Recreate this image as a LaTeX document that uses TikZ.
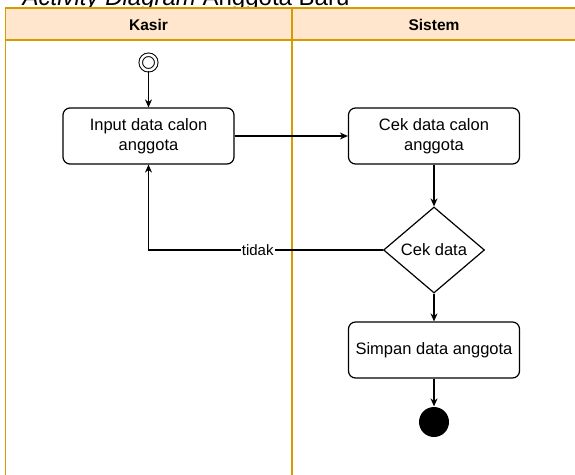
\documentclass[tikz,border=0pt]{standalone}
\usepackage{fontspec}
\setmainfont{Liberation Sans}
\usetikzlibrary{shapes.geometric,arrows.meta}
\definecolor{laneline}{HTML}{D79B00}
\definecolor{lanefill}{HTML}{FFE6CC}

\begin{document}
\begin{tikzpicture}[x=1pt,y=-1pt,>={Stealth[length=8pt,width=7pt]},
    line width=1.2pt,
    activity/.style={draw=black,rectangle,rounded corners=7pt,minimum width=171pt,
      minimum height=56pt,align=center,font=\fontsize{16.5}{20}\selectfont},
    decision/.style={draw=black,diamond,aspect=1.17,minimum width=101pt,
      minimum height=86pt,inner sep=0pt,font=\fontsize{16.5}{20}\selectfont},
    lanehead/.style={font=\fontsize{15.5}{18}\selectfont\bfseries}]
  \useasboundingbox (0,0) rectangle (575,474);
  \clip (0,0) rectangle (575,474);
  % judul (terpotong di atas)
  \node[anchor=base west,inner sep=0pt,font=\fontsize{24}{28}\selectfont] (judul) at (22,5)
    {\textit{Activity Diagram} Anggota Baru};
  % swimlane
  \fill[lanefill] (5.5,8) rectangle (600,40);
  \draw[laneline,line width=1.3pt] (5.5,490) -- (5.5,8) -- (600,8);
  \draw[laneline,line width=1.3pt] (5.5,40) -- (600,40);
  \draw[laneline,line width=1.3pt] (292,8) -- (292,490);
  \node[lanehead] (kasir) at (148.5,25) {Kasir};
  \node[lanehead] (sistem) at (434,25) {Sistem};
  % aktivitas
  \node[circle,draw=black,line width=1pt,double,double distance=2.5pt,minimum size=15.5pt,
    inner sep=0pt] (mulai) at (148.5,62.5) {};
  \node[activity] (input) at (148.5,136) {Input data calon\\anggota};
  \node[activity] (cek) at (434,136) {Cek data calon\\anggota};
  \node[decision] (cekdata) at (434,250) {Cek data};
  \node[activity] (simpan) at (434,350) {Simpan data anggota};
  \node[circle,fill=black,minimum size=30pt,inner sep=0pt] (selesai) at (434,422) {};

  \draw[->] (mulai) -- (input);
  \draw[->] (input) -- (cek);
  \draw[->] (cek) -- (cekdata);
  \draw[->] (cekdata.west) -| node[pos=0.267,fill=white,inner sep=1pt,
    font=\fontsize{15}{18}\selectfont] {tidak} (input.south);
  \draw[->] (cekdata) -- (simpan);
  \draw[->] (simpan) -- (selesai);
\end{tikzpicture}
\end{document}
